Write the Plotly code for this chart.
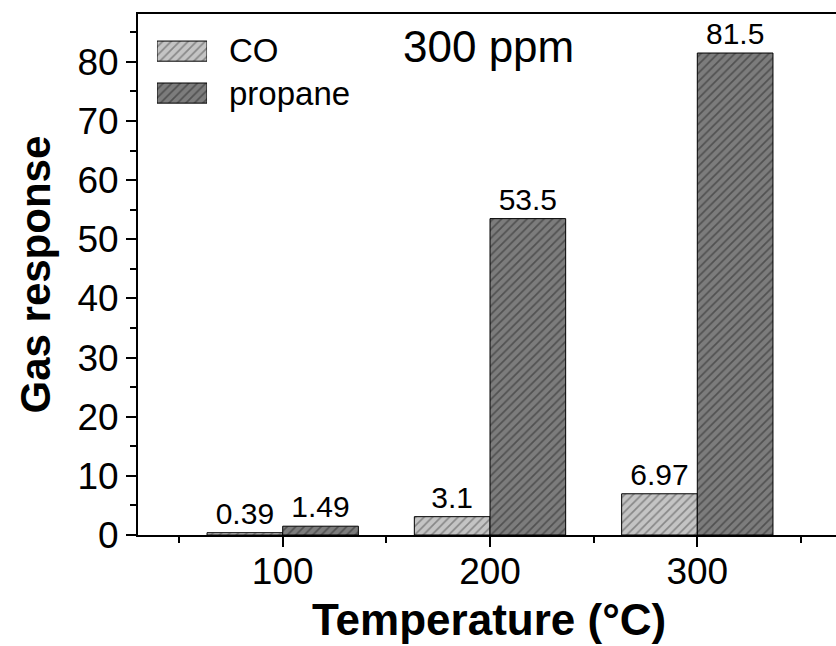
import plotly.graph_objects as go

# Gas response at 300 ppm versus operating temperature
temperatures = [100, 200, 300]
co_response = [0.39, 3.1, 6.97]
propane_response = [1.49, 53.5, 81.5]
co_labels = ["0.39", "3.1", "6.97"]
propane_labels = ["1.49", "53.5", "81.5"]

FONT = "Liberation Sans, Arial, sans-serif"
CO_FILL, CO_HATCH = "#c4c4c4", "#4a4a4a"
PR_FILL, PR_HATCH = "#7c7c7c", "#262626"


def hatch(fill, ink):
    return dict(color=fill, line=dict(color="black", width=1),
                pattern=dict(shape="/", fgcolor=ink, size=6, solidity=0.28))


fig = go.Figure()
fig.add_trace(go.Bar(
    x=temperatures, y=co_response, name="CO", marker=hatch(CO_FILL, CO_HATCH),
    text=co_labels, textposition="outside", cliponaxis=False,
    textfont=dict(family=FONT, size=30, color="black"), showlegend=False))
fig.add_trace(go.Bar(
    x=temperatures, y=propane_response, name="propane", marker=hatch(PR_FILL, PR_HATCH),
    text=propane_labels, textposition="outside", cliponaxis=False,
    textfont=dict(family=FONT, size=30, color="black"), showlegend=False))

# legend keys drawn as wide hatched swatches on a small helper axis
legend_names = ["CO", "propane"]
fig.add_trace(go.Bar(
    x=[1], y=[1], orientation="h", width=0.48, xaxis="x2", yaxis="y2",
    marker=hatch(CO_FILL, CO_HATCH), showlegend=False, hoverinfo="skip"))
fig.add_trace(go.Bar(
    x=[1], y=[0], orientation="h", width=0.48, xaxis="x2", yaxis="y2",
    marker=hatch(PR_FILL, PR_HATCH), showlegend=False, hoverinfo="skip"))

axis_common = dict(
    showline=True, linecolor="black", linewidth=2,
    ticks="outside", ticklen=10, tickwidth=2, tickcolor="black",
    showgrid=False, zeroline=False,
    tickfont=dict(family=FONT, size=37, color="black"),
)

fig.update_layout(
    width=836, height=646,
    margin=dict(l=138, r=0, t=14, b=111),
    plot_bgcolor="white", paper_bgcolor="white",
    barmode="group", bargap=0.27, bargroupgap=0,
    xaxis=dict(
        **axis_common, range=[30.2, 366.9], tickvals=temperatures,
        mirror=True, ticklabelstandoff=-7,
        minor=dict(tickvals=[50, 150, 250, 350], ticks="outside", ticklen=6,
                   tickwidth=2, tickcolor="black"),
    ),
    yaxis=dict(
        **axis_common, range=[0, 88.1], tickvals=[0, 10, 20, 30, 40, 50, 60, 70, 80],
        minor=dict(dtick=5, ticks="outside", ticklen=6, tickwidth=2, tickcolor="black"),
    ),
    xaxis2=dict(domain=[0.0272, 0.0989], range=[0, 1], visible=False, anchor="y2"),
    yaxis2=dict(domain=[0.808, 0.969], range=[-0.5, 1.5], visible=False, anchor="x2"),
)

ann = []
for i, name in enumerate(legend_names):
    ann.append(dict(
        x=0.128, xref="paper", y=[0.929, 0.848][i], yref="paper",
        text=name, showarrow=False, xanchor="left", yanchor="middle",
        font=dict(family=FONT, size=33, color="black")))
ann.append(dict(
    x=(488 - 138) / 698, xref="paper", y=(535 - 46) / 521, yref="paper",
    text="300 ppm", showarrow=False, xanchor="center", yanchor="middle",
    font=dict(family=FONT, size=44, color="black")))
ann.append(dict(
    x=(489 - 138) / 698, xref="paper", y=(535 - 619) / 521, yref="paper",
    text="<b>Temperature (°C)</b>", showarrow=False, xanchor="center", yanchor="middle",
    font=dict(family=FONT, size=44, color="black")))
ann.append(dict(
    x=(35 - 138) / 698, xref="paper", y=0.5, yref="paper",
    text="<b>Gas response</b>", showarrow=False, textangle=-90,
    xanchor="center", yanchor="middle",
    font=dict(family=FONT, size=42, color="black")))
fig.update_layout(annotations=ann)

fig.write_html("out.html")
